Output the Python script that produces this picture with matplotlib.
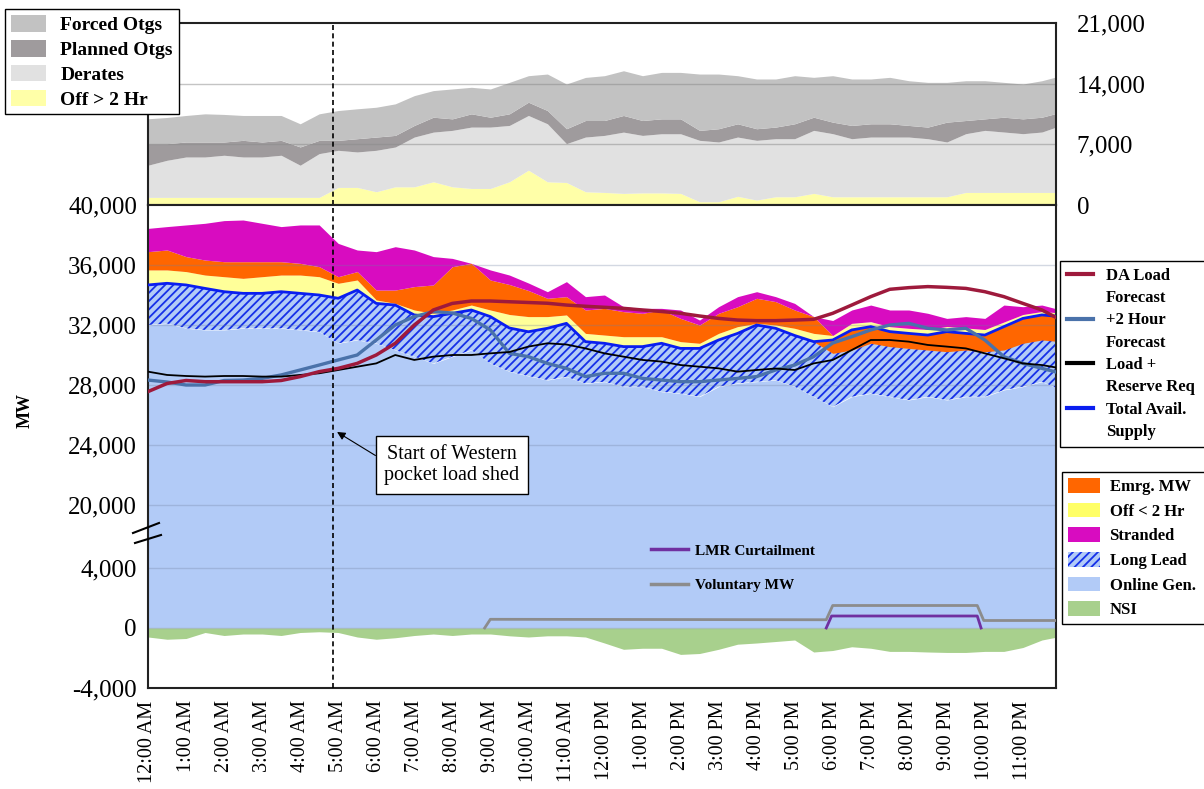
import numpy as np
import matplotlib
matplotlib.use('Agg')
import matplotlib.pyplot as plt
from matplotlib.patches import Patch
from matplotlib.lines import Line2D

plt.rcParams['font.family'] = ['Liberation Serif', 'DejaVu Serif']
plt.rcParams['hatch.linewidth'] = 1.3

# half-hour samples, 12:00 AM .. midnight
hours = np.arange(49) * 0.5
hour_labels = ['12:00 AM'] + [f'{h}:00 AM' for h in range(1, 12)] + \
              ['12:00 PM'] + [f'{h}:00 PM' for h in range(1, 12)]

# ---- main panel (MW), stacked boundaries ----
online_gen = [32000, 32100, 31780, 31670, 31670, 31780, 31780, 31780, 31670, 31550,
              30780, 31000, 30780, 30330, 29890, 29440, 29890, 30330, 29440, 28900,
              28600, 28330, 28550, 28110, 28220, 27890, 27890, 27550, 27440, 27220,
              27890, 28110, 28220, 28330, 27890, 27220, 26550, 27220, 27440, 27220,
              27000, 27220, 27000, 27220, 27220, 27670, 27890, 28220, 27670]
long_lead_top = [34670, 34780, 34670, 34440, 34220, 34110, 34110, 34220, 34110, 34000,
                 33780, 34330, 33440, 33330, 32670, 32560, 32780, 33000, 32560, 31800,
                 31550, 31780, 32110, 30890, 30780, 30560, 30560, 30780, 30440, 30440,
                 31000, 31440, 32000, 31780, 31300, 30890, 30110, 30330, 30780, 30560,
                 30440, 30330, 30220, 30330, 30220, 30330, 30780, 31000, 30890]
total_avail = [34670, 34780, 34670, 34440, 34220, 34110, 34110, 34220, 34110, 34000,
               33780, 34330, 33440, 33330, 32670, 32560, 32780, 33000, 32560, 31800,
               31550, 31780, 32110, 30890, 30780, 30560, 30560, 30780, 30440, 30440,
               31000, 31440, 32000, 31780, 31300, 30890, 31000, 31670, 31890, 31560,
               31440, 31330, 31560, 31440, 31330, 31890, 32440, 32670, 32560]
off_lt2_top = [35670, 35670, 35560, 35330, 35220, 35110, 35220, 35330, 35330, 35220,
               34780, 35000, 33670, 33440, 33000, 32780, 33000, 33330, 33000, 32700,
               32560, 32560, 32670, 31440, 31330, 31220, 31220, 31220, 30890, 30780,
               31440, 31890, 32110, 32000, 31780, 31440, 31300, 32110, 32220, 31890,
               31780, 31700, 31900, 31800, 31700, 32200, 32700, 32900, 32800]
emrg_top = [36890, 37000, 36560, 36330, 36220, 36220, 36220, 36220, 36110, 35890,
            35220, 35560, 34330, 34330, 34560, 34670, 35890, 36110, 35000, 34700,
            34300, 33780, 33890, 33000, 33110, 32890, 32780, 33000, 32440, 32000,
            32780, 33220, 33780, 33560, 33000, 32560, 31300, 32110, 32220, 31890,
            31780, 31700, 31900, 31800, 31700, 32200, 32700, 32900, 32800]
stranded_top = [38440, 38560, 38670, 38780, 38960, 39000, 38780, 38560, 38670, 38670,
                37440, 37000, 36890, 37220, 37000, 36560, 36440, 36110, 35670, 35330,
                34800, 34220, 34890, 33890, 34000, 33220, 33110, 33110, 33000, 32330,
                33220, 33890, 34220, 33890, 33440, 32560, 32300, 33000, 33330, 33000,
                33000, 32780, 32440, 32560, 32440, 33330, 33220, 33330, 33000]
nsi = [-600, -750, -700, -300, -500, -400, -400, -500, -300, -250,
       -300, -600, -750, -650, -500, -400, -500, -400, -400, -520,
       -600, -520, -520, -600, -1000, -1420, -1350, -1350, -1760, -1700,
       -1420, -1080, -1000, -900, -800, -1600, -1500, -1250, -1350, -1560,
       -1560, -1600, -1630, -1630, -1560, -1560, -1300, -800, -550]

da_load = [27560, 28100, 28300, 28220, 28220, 28220, 28220, 28300, 28560, 28890,
           29110, 29440, 30000, 30780, 32000, 33000, 33440, 33600, 33600, 33550,
           33500, 33450, 33330, 33250, 33180, 33110, 33000, 32900, 32780, 32600,
           32440, 32330, 32290, 32290, 32330, 32380, 32780, 33330, 33890, 34380,
           34490, 34560, 34510, 34440, 34220, 33890, 33440, 33000, 32330]
plus2h = [28330, 28200, 28000, 28000, 28300, 28330, 28440, 28670, 29000, 29330,
          29670, 30000, 31000, 32000, 32560, 32890, 32800, 32440, 31670, 30110,
          29890, 29440, 29110, 28560, 28780, 28780, 28440, 28330, 28220, 28220,
          28330, 28440, 28560, 29000, 29330, 29890, 30800, 31220, 31670, 32000,
          32110, 31780, 31670, 31780, 31000, 29890, 29440, 29110, 28780]
load_reserve = [28890, 28670, 28600, 28560, 28600, 28600, 28560, 28560, 28670, 28780,
                29000, 29220, 29440, 30000, 29670, 29890, 30000, 30000, 30110, 30200,
                30560, 30780, 30700, 30440, 30110, 29890, 29670, 29560, 29330, 29220,
                29110, 28890, 29000, 29100, 29000, 29440, 29670, 30330, 31000, 31000,
                30890, 30670, 30560, 30440, 30110, 29780, 29440, 29330, 29110]

lmr_hours = [17.83, 17.97, 21.8, 21.9]
lmr_mw = [0, 800, 800, 0]
vol_hours = [8.85, 9.0, 17.83, 18.0, 21.8, 21.97, 23.9]
vol_mw = [0, 580, 550, 1500, 1500, 500, 500]

load_shed_start = 4.86

# ---- outage panel (MW), stacked boundaries ----
off_gt2hr = [880, 880, 880, 880, 880, 880, 880, 880, 880, 880,
             2030, 2030, 1530, 2100, 2100, 2680, 2100, 1910, 1910, 2680,
             4020, 2680, 2600, 1530, 1450, 1340, 1400, 1400, 1340, 380,
             380, 1000, 570, 950, 950, 1340, 950, 950, 950, 950,
             950, 950, 950, 1450, 1450, 1450, 1450, 1450, 1450]
derates_top = [4590, 5160, 5540, 5540, 5740, 5540, 5540, 5740, 4590, 5930,
               6310, 6120, 6310, 6690, 7840, 8410, 8610, 8990, 8990, 9180,
               10330, 9370, 7080, 7840, 8030, 8410, 8030, 8220, 8220, 7460,
               7270, 7840, 7460, 7650, 7650, 8610, 8230, 7650, 7840, 7840,
               7840, 7650, 7270, 8230, 8610, 8420, 8230, 8420, 9180]
planned_top = [7080, 7080, 7270, 7270, 7270, 7460, 7270, 7460, 6700, 7460,
               7460, 7650, 7840, 8030, 9180, 10130, 9940, 10520, 10130, 10520,
               11860, 10900, 8800, 9750, 9750, 10330, 9750, 9940, 9940, 8610,
               8800, 9370, 8800, 8990, 9370, 10130, 9560, 9180, 9370, 9370,
               9180, 8990, 9560, 9750, 9940, 10130, 9940, 10130, 10710]
forced_top = [9950, 10100, 10330, 10520, 10450, 10330, 10330, 10330, 9370, 10520,
              10900, 11100, 11280, 11670, 12620, 13200, 13390, 13580, 13390, 14150,
              14920, 15110, 13960, 14720, 14920, 15490, 14920, 15300, 15300, 15110,
              15110, 14920, 14540, 14540, 14920, 14730, 14920, 14540, 14540, 14730,
              14340, 14150, 14150, 14340, 14340, 14150, 13960, 14340, 14920]

main_ticks = [-4000, 0, 4000, 20000, 24000, 28000, 32000, 36000, 40000]
top_ticks = [0, 7000, 14000, 21000]


def brk(v):
    # broken axis: values below the break are shifted up to sit under 20,000
    v = np.asarray(v, dtype=float)
    return np.where(v < 12000, v + 11800, v)


W, H = 1204, 789


def box(l, t, r, b):
    return [l / W, 1 - b / H, (r - l) / W, (b - t) / H]


c_online = '#B2CBF7'
c_hatch = '#1530E8'
c_emrg = '#FF6600'
c_off = '#FFFF99'
c_str = '#D80CC0'
c_nsi = '#A8D08D'

fig = plt.figure(figsize=(W / 100, H / 100), dpi=100)
ax_top = fig.add_axes(box(148, 23, 1056, 205))
ax = fig.add_axes(box(148, 205, 1056, 688))

# outage panel
ax_top.fill_between(hours, 0, off_gt2hr, color='#FFFFA8', lw=0)
ax_top.fill_between(hours, off_gt2hr, derates_top, color='#E1E1E1', lw=0)
ax_top.fill_between(hours, derates_top, planned_top, color='#9F9B9D', lw=0)
ax_top.fill_between(hours, planned_top, forced_top, color='#C2C2C2', lw=0)
for v in top_ticks[1:3]:
    ax_top.axhline(v, color='#8A8A8A', lw=1, alpha=0.5, zorder=2)
ax_top.set_xlim(0, 23.87)
ax_top.set_ylim(0, 21000)
ax_top.set_xticks([])
ax_top.yaxis.tick_right()
ax_top.set_yticks(top_ticks)
ax_top.set_yticklabels([f'{v:,}' for v in top_ticks])
ax_top.tick_params(axis='y', length=0, pad=15, labelsize=18)
ax_top.axvline(load_shed_start, color='black', lw=1.2, dashes=(3, 2), zorder=5)

# main panel
ax.fill_between(hours, brk(0), brk(online_gen), color=c_online, lw=0, zorder=1)
ax.fill_between(hours, brk(online_gen), brk(long_lead_top), facecolor=c_online,
                edgecolor=c_hatch, hatch='////', lw=0, zorder=1)
ax.fill_between(hours, brk(long_lead_top), brk(total_avail), color=c_emrg, lw=0, zorder=1)
ax.fill_between(hours, brk(total_avail), brk(off_lt2_top), color=c_off, lw=0, zorder=1)
ax.fill_between(hours, brk(off_lt2_top), brk(emrg_top), color=c_emrg, lw=0, zorder=1)
ax.fill_between(hours, brk(emrg_top), brk(stranded_top), color=c_str, lw=0, zorder=1)
ax.fill_between(hours, brk(nsi), brk(0), color=c_nsi, lw=0, zorder=1)

for v in main_ticks[1:-1]:
    ax.axhline(brk(v), color='#7080A0', lw=1, alpha=0.3, zorder=1.5)

ax.plot(hours, brk(total_avail), color='#0A1EF0', lw=2.0, zorder=3)
ax.plot(hours, brk(plus2h), color='#4A72AA', lw=2.4, zorder=3)
ax.plot(hours, brk(load_reserve), color='black', lw=1.3, zorder=3)
ax.plot(hours, brk(da_load), color='#9E1A3C', lw=2.5, zorder=3)
ax.plot(vol_hours, brk(vol_mw), color='#8C8C8C', lw=2.0, zorder=3)
ax.plot(lmr_hours, brk(lmr_mw), color='#7030A0', lw=2.0, zorder=3)

ax.axvline(load_shed_start, color='black', lw=1.2, dashes=(3, 2), zorder=5)

ax.set_xlim(0, 23.87)
ax.set_ylim(brk(-4000), 40000)
ax.set_yticks(brk(main_ticks))
ax.set_yticklabels([f'{v:,}' for v in main_ticks])
ax.set_xticks(range(24))
ax.set_xticklabels(hour_labels, rotation=90)
ax.tick_params(axis='y', length=0, pad=8, labelsize=18)
ax.tick_params(axis='x', length=0, pad=9, labelsize=14.5)

for a in (ax, ax_top):
    for s in a.spines.values():
        s.set_linewidth(1.5)
        s.set_color('#222222')

ax.annotate('Start of Western\npocket load shed', xy=(4.97, 24867), xytext=(7.99, 22667),
            ha='center', va='center', fontsize=14.5, linespacing=1.15,
            bbox=dict(boxstyle='square,pad=0.42', fc='white', ec='black', lw=1),
            arrowprops=dict(arrowstyle='-|>', color='black', lw=0.8,
                            relpos=(0, 0.6), shrinkA=0, shrinkB=0, mutation_scale=12),
            zorder=6)

# in-plot legend
ax.legend(handles=[Line2D([], [], color='#7030A0', lw=2.5),
                   Line2D([], [], color='#8C8C8C', lw=2.5)],
          labels=['LMR Curtailment', 'Voluntary MW'],
          loc='upper left', bbox_to_anchor=(645 / W, 1 - 538 / H),
          bbox_transform=fig.transFigure, frameon=False, borderaxespad=0,
          prop=dict(weight='bold', size=11), handlelength=2.4,
          handletextpad=0.5, labelspacing=1.35)

# outage legend (top left)
fig.legend(handles=[Patch(fc='#C2C2C2', label='Forced Otgs'),
                    Patch(fc='#9F9B9D', label='Planned Otgs'),
                    Patch(fc='#E1E1E1', label='Derates'),
                    Patch(fc='#FFFFA8', label='Off > 2 Hr')],
           loc='upper left', bbox_to_anchor=(5 / W, 1 - 9 / H), borderaxespad=0,
           prop=dict(weight='bold', size=14), handlelength=1.8, handleheight=0.95,
           handletextpad=0.75, labelspacing=0.3, borderpad=0.3,
           fancybox=False, edgecolor='black', framealpha=1)

# line legend (right), box runs off the right edge as in the source
blank = Line2D([], [], color='none')
fig.legend(handles=[Line2D([], [], color='#9E1A3C', lw=3), blank,
                    Line2D([], [], color='#4A72AA', lw=3), blank,
                    Line2D([], [], color='black', lw=3), blank,
                    Line2D([], [], color='#0A1EF0', lw=3), blank],
           labels=['DA Load', 'Forecast', '+2 Hour', 'Forecast',
                   'Load +', 'Reserve Req', 'Total Avail.', 'Supply'],
           loc='upper left', bbox_to_anchor=(1060 / W, 1 - 261 / H, 170 / W, 0),
           mode='expand', borderaxespad=0,
           prop=dict(weight='bold', size=12), handlelength=1.6,
           handletextpad=0.75, labelspacing=0.38, borderpad=0.4,
           fancybox=False, edgecolor='black', framealpha=1)

# area legend (right)
fig.legend(handles=[Patch(fc=c_emrg, label='Emrg. MW'),
                    Patch(fc='#FFFF66', label='Off < 2 Hr'),
                    Patch(fc=c_str, label='Stranded'),
                    Patch(fc=c_online, ec=c_hatch, hatch='////', lw=0, label='Long Lead'),
                    Patch(fc=c_online, label='Online Gen.'),
                    Patch(fc=c_nsi, label='NSI')],
           loc='upper left', bbox_to_anchor=(1062 / W, 1 - 472 / H, 170 / W, 0),
           mode='expand', borderaxespad=0,
           prop=dict(weight='bold', size=12), handlelength=1.9, handleheight=1.0,
           handletextpad=0.6, labelspacing=0.45, borderpad=0.35,
           fancybox=False, edgecolor='black', framealpha=1)

fig.text(25 / W, 1 - 410 / H, 'MW', rotation=90, fontweight='bold', fontsize=13,
         ha='center', va='center')

# axis break marks
fig.add_artist(Line2D([133 / W, 159 / W], [1 - 533 / H, 1 - 523 / H], color='black', lw=1.5))
fig.add_artist(Line2D([135 / W, 161 / W], [1 - 543 / H, 1 - 535 / H], color='black', lw=1.5))

fig.savefig('out.png', dpi=100)
